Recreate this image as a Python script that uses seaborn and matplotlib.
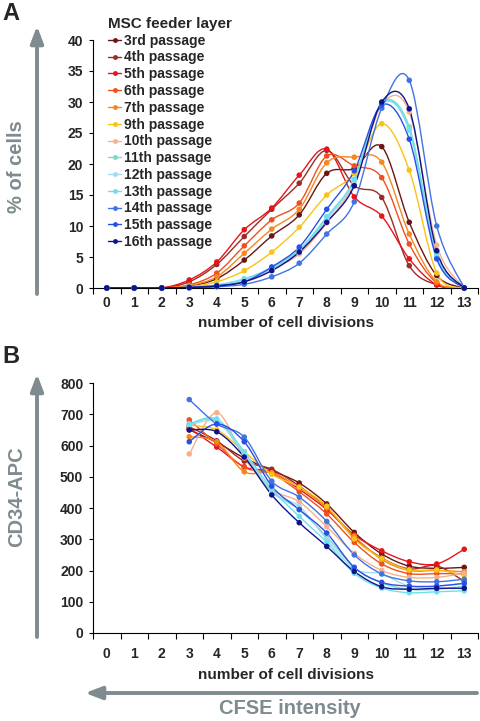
import numpy as np
import pandas as pd
import matplotlib
matplotlib.use("Agg")
import matplotlib.pyplot as plt
import seaborn as sns
from matplotlib.path import Path
from matplotlib.patches import PathPatch, FancyArrowPatch
from matplotlib.lines import Line2D

sns.set_theme(style="white")
plt.rcParams["font.family"] = ["Liberation Sans", "DejaVu Sans"]
plt.rcParams["font.weight"] = "bold"

# passages of the MSC feeder layer and their colours
passages = ["3rd passage", "4th passage", "5th passage", "6th passage", "7th passage",
            "9th passage", "10th passage", "11th passage", "12th passage", "13th passage",
            "14th passage", "15th passage", "16th passage"]
colors = ["#6b1515", "#9e2a26", "#e8141c", "#f0501f", "#f5871f", "#fbc213", "#f7b08a",
          "#7adbc8", "#a8d8ee", "#6ce0f0", "#4173e2", "#2a4fe8", "#10148a"]

# panel A: % of cells per number of cell divisions (0..13)
div_a = list(range(14))
pct_3rd = [0, 0, 0, 0.3, 1.5, 4.5, 8.4, 11.8, 18.5, 19.3, 22.8, 10.6, 2.0, 0]
pct_4th = [0, 0, 0, 1.0, 3.8, 8.3, 12.7, 16.9, 22.2, 16.5, 14.6, 3.6, 0.5, 0]
pct_5th = [0, 0, 0, 1.3, 4.2, 9.4, 12.9, 18.2, 22.4, 14.7, 11.6, 4.7, 0.5, 0]
pct_6th = [0, 0, 0, 0.5, 2.4, 6.8, 11.0, 13.7, 21.3, 19.7, 17.8, 7.1, 0.8, 0]
pct_7th = [0, 0, 0, 0.4, 1.8, 5.6, 9.5, 12.7, 20.2, 21.1, 20.3, 8.7, 1.0, 0]
pct_9th = [0, 0, 0, 0.2, 1.0, 2.8, 5.8, 9.8, 15.0, 18.5, 26.5, 19.0, 2.4, 0]
pct_10th = [0, 0, 0, 0.1, 0.4, 1.2, 3.0, 5.5, 10.5, 17.0, 29.5, 28.4, 6.9, 0]
pct_11th = [0, 0, 0, 0.1, 0.4, 1.4, 3.2, 6.0, 11.2, 17.5, 29.8, 26.0, 5.5, 0]
pct_12th = [0, 0, 0, 0.1, 0.4, 1.3, 3.1, 5.8, 11.0, 17.3, 29.6, 25.5, 5.0, 0]
pct_13th = [0, 0, 0, 0.1, 0.5, 1.5, 3.3, 6.2, 11.5, 17.5, 29.8, 25.5, 5.0, 0]
pct_14th = [0, 0, 0, 0.0, 0.2, 0.6, 1.8, 4.0, 8.7, 13.9, 29.0, 33.5, 10.0, 0]
pct_15th = [0, 0, 0, 0.1, 0.4, 1.0, 3.4, 6.6, 12.7, 18.9, 29.5, 24.0, 4.7, 0]
pct_16th = [0, 0, 0, 0.1, 0.3, 1.0, 2.8, 5.8, 10.6, 16.5, 30.0, 28.9, 6.0, 0]

# panel B: CD34-APC intensity per number of cell divisions (3..13)
div_b = list(range(3, 14))
cd34_3rd = [650, 610, 560, 520, 480, 413, 322, 253, 214, 207, 210]
cd34_4th = [660, 615, 550, 524, 470, 400, 305, 240, 205, 215, 165]
cd34_5th = [655, 595, 532, 515, 460, 395, 314, 263, 228, 221, 268]
cd34_6th = [682, 605, 530, 510, 452, 381, 290, 221, 190, 190, 190]
cd34_7th = [628, 612, 516, 513, 465, 400, 310, 235, 200, 200, 196]
cd34_9th = [665, 650, 580, 508, 467, 406, 301, 239, 202, 202, 185]
cd34_10th = [573, 705, 560, 460, 420, 340, 255, 200, 178, 178, 191]
cd34_11th = [669, 680, 570, 455, 394, 308, 210, 160, 140, 140, 150]
cd34_12th = [665, 675, 575, 450, 405, 300, 205, 189, 150, 150, 160]
cd34_13th = [669, 685, 580, 461, 373, 290, 191, 144, 129, 132, 135]
cd34_14th = [747, 669, 627, 486, 435, 357, 250, 189, 167, 164, 172]
cd34_15th = [612, 669, 612, 470, 395, 320, 210, 162, 150, 150, 159]
cd34_16th = [650, 644, 563, 442, 353, 277, 197, 148, 140, 143, 143]

pct_all = [pct_3rd, pct_4th, pct_5th, pct_6th, pct_7th, pct_9th, pct_10th,
           pct_11th, pct_12th, pct_13th, pct_14th, pct_15th, pct_16th]
cd34_all = [cd34_3rd, cd34_4th, cd34_5th, cd34_6th, cd34_7th, cd34_9th, cd34_10th,
            cd34_11th, cd34_12th, cd34_13th, cd34_14th, cd34_15th, cd34_16th]

df_a = pd.DataFrame([(p, d, v) for p, vals in zip(passages, pct_all) for d, v in zip(div_a, vals)],
                    columns=["passage", "divisions", "value"])
df_b = pd.DataFrame([(p, d, v) for p, vals in zip(passages, cd34_all) for d, v in zip(div_b, vals)],
                    columns=["passage", "divisions", "value"])
palette = dict(zip(passages, colors))

GRAY = "#7f8b8f"
W, H = 480, 721


def smooth_path(x, y):
    # Excel-like smoothed line (Catmull-Rom as cubic Bezier) through the data points
    pts = np.column_stack([x, y]).astype(float)
    n = len(pts)
    verts, codes = [pts[0]], [Path.MOVETO]
    for i in range(n - 1):
        p0 = pts[i - 1] if i > 0 else pts[i]
        p1, p2 = pts[i], pts[i + 1]
        p3 = pts[i + 2] if i + 2 < n else pts[i + 1]
        verts += [p1 + (p2 - p0) / 6, p2 - (p3 - p1) / 6, p2]
        codes += [Path.CURVE4] * 3
    return Path(verts, codes)


def draw_panel(ax, df, ymax, ystep, xlabel_pad, tick_pad):
    for p in passages:
        sub = df[df["passage"] == p]
        ax.add_patch(PathPatch(smooth_path(sub["divisions"], sub["value"]), fill=False,
                               edgecolor=palette[p], lw=1.0))
    sns.scatterplot(data=df, x="divisions", y="value", hue="passage", palette=palette,
                    s=16, edgecolor="none", legend=False, ax=ax, clip_on=False, zorder=3)
    ax.set_xlim(-0.5, 13.5)
    ax.set_ylim(0, ymax)
    ax.set_xticks(range(14))
    ax.set_xticks(np.arange(-0.5, 14, 1), minor=True)
    ax.set_yticks(np.arange(0, ymax + 1, ystep))
    ax.tick_params(axis="x", which="major", length=0, pad=tick_pad, labelsize=10)
    ax.tick_params(axis="x", which="minor", length=4, width=0.8, direction="out", color="black", bottom=True)
    ax.tick_params(axis="y", length=3, width=0.8, direction="out", color="black", left=True, labelsize=10, pad=4)
    for s in ["top", "right"]:
        ax.spines[s].set_visible(False)
    for s in ["left", "bottom"]:
        ax.spines[s].set_color("black")
        ax.spines[s].set_linewidth(0.8)
    ax.set_xlabel("number of cell divisions", fontsize=11, fontweight="bold", labelpad=xlabel_pad)
    ax.set_ylabel("")
    for lbl in ax.get_xticklabels() + ax.get_yticklabels():
        lbl.set_fontweight("bold")


fig = plt.figure(figsize=(W / 100, H / 100), dpi=100)
ax_a = fig.add_axes([93 / W, 1 - 288 / H, 385 / W, 248 / H])
ax_b = fig.add_axes([93 / W, 1 - 633 / H, 385 / W, 250 / H])

draw_panel(ax_a, df_a, 40, 5, 4, 6)
draw_panel(ax_b, df_b, 800, 100, 5, 10)

handles = [Line2D([0], [0], color=c, lw=1.0, marker="o", markersize=3.5, markeredgewidth=0)
           for c in colors]
leg = ax_a.legend(handles, passages, title="MSC feeder layer", loc="upper left",
                  bbox_to_anchor=(101 / W, 1 - 10 / H), bbox_transform=fig.transFigure,
                  frameon=False, alignment="left", borderpad=0, handlelength=0.95,
                  handletextpad=0.2, labelspacing=0.2, prop={"size": 10, "weight": "bold"},
                  title_fontproperties={"size": 11, "weight": "bold"})

# panel letters
fig.text(2 / W, 1 - 2 / H, "A", fontsize=17, fontweight="bold", va="top", ha="left")
fig.text(2 / W, 1 - 345 / H, "B", fontsize=17, fontweight="bold", va="top", ha="left")


def fig_arrow(x0, y0, x1, y1):
    fig.add_artist(FancyArrowPatch((x0 / W, 1 - y0 / H), (x1 / W, 1 - y1 / H),
                                   transform=fig.transFigure,
                                   arrowstyle="-|>,head_length=10,head_width=3.8",
                                   mutation_scale=1, lw=2.8, color=GRAY,
                                   shrinkA=0, shrinkB=0))


fig_arrow(37, 294, 37, 26)
fig_arrow(37, 637, 37, 374)
fig_arrow(477, 693, 85, 693)

fig.text(17 / W, 1 - 167 / H, "% of cells", rotation=90, fontsize=14.5, fontweight="bold",
         color=GRAY, ha="center", va="center")
fig.text(17 / W, 1 - 497 / H, "CD34-APC", rotation=90, fontsize=14.5, fontweight="bold",
         color=GRAY, ha="center", va="center")
fig.text(290 / W, 1 - 709 / H, "CFSE intensity", fontsize=14.5, fontweight="bold",
         color=GRAY, ha="center", va="center")

fig.savefig("out.png", dpi=100)
